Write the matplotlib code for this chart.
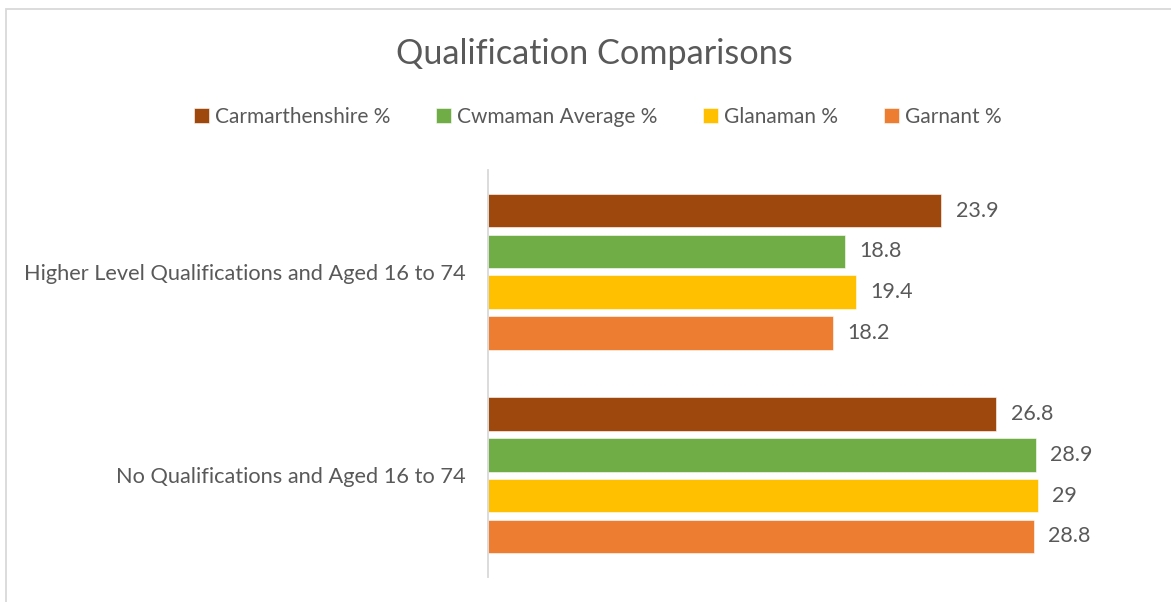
import numpy as np
import matplotlib.pyplot as plt
from matplotlib.patches import Rectangle

categories = ['Higher Level Qualifications and Aged 16 to 74', 'No Qualifications and Aged 16 to 74']
series = ['Carmarthenshire %', 'Cwmaman Average %', 'Glanaman %', 'Garnant %']
values = [
    [23.9, 26.8],
    [18.8, 28.9],
    [19.4, 29],
    [18.2, 28.8],
]
labels = [
    ['23.9', '26.8'],
    ['18.8', '28.9'],
    ['19.4', '29'],
    ['18.2', '28.8'],
]
colors = ['#9E480E', '#70AD47', '#FFC000', '#ED7D31']

plt.rcParams['font.family'] = ['Lato', 'DejaVu Sans']
txt = '#595959'

W, H = 1171, 602
fig = plt.figure(figsize=(W / 100, H / 100), dpi=100)

# chart border (only left/top visible in the crop)
fig.patches.append(Rectangle((6 / W, -0.05), 1.2, (602 - 9) / H + 0.05, transform=fig.transFigure,
                             fill=False, edgecolor='#D9D9D9', linewidth=1.3))

ax = fig.add_axes([488 / W, 25 / H, 569 / W, 407 / H])

pitch = 0.2
height = 0.165
y = np.arange(len(categories))
for i, s in enumerate(series):
    pos = y - 1.5 * pitch + i * pitch
    bars = ax.barh(pos, values[i], height=height, color=colors[i], label=s,
                   edgecolor='white', linewidth=0.4)
    for b, lab in zip(bars, labels[i]):
        ax.text(b.get_width() + 0.75, b.get_y() + b.get_height() / 2, lab,
                va='center', ha='left', fontsize=15.5, color=txt)

ax.set_xlim(0, 30)
ax.set_ylim(len(categories) - 0.5, -0.5)
ax.set_yticks(y)
ax.set_yticklabels(categories, fontsize=15.7, color=txt)
ax.tick_params(axis='y', length=0, pad=16)
ax.set_xticks([])
for sp in ['top', 'right', 'bottom']:
    ax.spines[sp].set_visible(False)
ax.spines['left'].set_color('#D9D9D9')
ax.spines['left'].set_linewidth(1.3)

fig.text(594 / W, 1 - 54 / H, 'Qualification Comparisons', ha='center', va='center',
         fontsize=24.7, color=txt)

handles, labs = ax.get_legend_handles_labels()
fig.legend(handles, labs, loc='center', bbox_to_anchor=(598 / W, 1 - 117 / H), ncol=4,
           frameon=False, fontsize=15, labelcolor=txt, handlelength=0.7, handleheight=0.7,
           handletextpad=0.3, columnspacing=2.2)

fig.savefig('out.png', dpi=100)
